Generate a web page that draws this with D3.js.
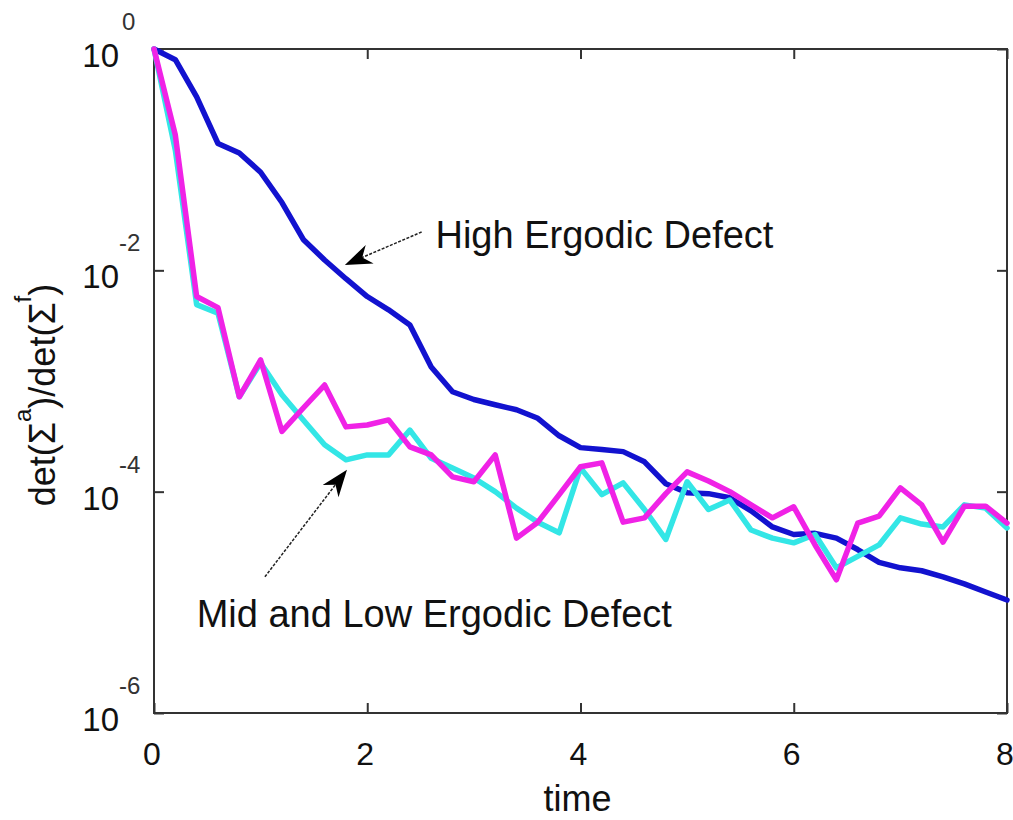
<!DOCTYPE html>
<html>
<head>
<meta charset="utf-8">
<script src="https://cdn.jsdelivr.net/npm/d3@7"></script>
<style>
  body { margin: 0; background: #fff; }
  svg { display: block; }
  text { font-family: "Liberation Sans", Arial, Helvetica, sans-serif; fill: #111; }
</style>
</head>
<body>
<svg id="chart" width="1013" height="820"></svg>
<script>
// Sample times of the assimilation experiment
const time = [0, 0.2, 0.4, 0.6, 0.8, 1.0, 1.2, 1.4, 1.6, 1.8,
              2.0, 2.2, 2.4, 2.6, 2.8, 3.0, 3.2, 3.4, 3.6, 3.8,
              4.0, 4.2, 4.4, 4.6, 4.8, 5.0, 5.2, 5.4, 5.6, 5.8,
              6.0, 6.2, 6.4, 6.6, 6.8, 7.0, 7.2, 7.4, 7.6, 7.8, 8.0];

// det(Σ^a)/det(Σ^f) for the three ergodic-defect cases
const highDefect = [1, 0.80, 0.37, 0.14, 0.115, 0.077, 0.041, 0.019, 0.0124, 0.0084,
                    0.0058, 0.0044, 0.0032, 1.34e-3, 8.0e-4, 6.8e-4, 6.1e-4, 5.5e-4, 4.6e-4, 3.2e-4,
                    2.5e-4, 2.4e-4, 2.3e-4, 1.86e-4, 1.18e-4, 9.8e-5, 9.6e-5, 8.8e-5, 6.7e-5, 4.8e-5,
                    4.1e-5, 4.2e-5, 3.8e-5, 3.0e-5, 2.3e-5, 2.05e-5, 1.93e-5, 1.70e-5, 1.47e-5, 1.24e-5, 1.05e-5];

const midDefect = [1, 0.167, 0.0058, 0.0046, 7.2e-4, 1.55e-3, 3.5e-4, 5.7e-4, 9.2e-4, 3.85e-4,
                   4.0e-4, 4.45e-4, 2.54e-4, 2.15e-4, 1.36e-4, 1.23e-4, 2.15e-4, 3.8e-5, 5.3e-5, 9.4e-5,
                   1.68e-4, 1.82e-4, 5.3e-5, 5.8e-5, 9.6e-5, 1.51e-4, 1.25e-4, 1.0e-4, 7.6e-5, 5.8e-5,
                   7.3e-5, 3.3e-5, 1.6e-5, 5.2e-5, 6.0e-5, 1.08e-4, 7.6e-5, 3.5e-5, 7.4e-5, 7.4e-5, 5.2e-5];

const lowDefect = [1, 0.122, 0.0049, 0.0041, 7.2e-4, 1.46e-3, 7.5e-4, 4.45e-4, 2.65e-4, 1.94e-4,
                   2.15e-4, 2.15e-4, 3.6e-4, 2.0e-4, 1.64e-4, 1.33e-4, 1.0e-4, 7.1e-5, 5.3e-5, 4.25e-5,
                   1.64e-4, 9.4e-5, 1.2e-4, 6.9e-5, 3.7e-5, 1.23e-4, 6.9e-5, 8.4e-5, 4.5e-5, 3.8e-5,
                   3.45e-5, 4.1e-5, 2.05e-5, 2.6e-5, 3.3e-5, 5.8e-5, 5.1e-5, 4.8e-5, 7.6e-5, 7.1e-5, 4.7e-5];

const xTickValues = [0, 2, 4, 6, 8];
const yTickExponents = [0, -2, -4, -6];

// Annotation anchors in data units: [time, ratio]
const highNote = { text: "High Ergodic Defect", tip: [1.79, 0.0112], tail: [2.51, 0.0222], label: [2.64, 0.0158] };
const lowNote  = { text: "Mid and Low Ergodic Defect", tip: [1.81, 1.58e-4], tail: [1.04, 1.7e-5], label: [0.40, 6.0e-6] };

const svg = d3.select("#chart");
const plot = { left: 154, right: 1007, top: 49, bottom: 713 };

const x = d3.scaleLinear().domain([0, 8]).range([plot.left, plot.right]);
const y = d3.scaleLog().domain([1e-6, 1]).range([plot.bottom, plot.top]);

const axisColor = "#333";

// Frame
svg.append("rect")
  .attr("x", plot.left).attr("y", plot.top)
  .attr("width", plot.right - plot.left).attr("height", plot.bottom - plot.top)
  .attr("fill", "none").attr("stroke", axisColor).attr("stroke-width", 2);

// Inward ticks on all four sides
const yTickVals = yTickExponents.map(e => Math.pow(10, e));
function styleAxis(g) {
  g.select(".domain").remove();
  g.selectAll(".tick line").attr("stroke", axisColor).attr("stroke-width", 2);
  g.selectAll(".tick text").remove();
}
svg.append("g").attr("transform", `translate(0,${plot.bottom})`)
  .call(d3.axisBottom(x).tickValues(xTickValues).tickSizeInner(-10).tickSizeOuter(0)).call(styleAxis);
svg.append("g").attr("transform", `translate(0,${plot.top})`)
  .call(d3.axisTop(x).tickValues(xTickValues).tickSizeInner(-10).tickSizeOuter(0)).call(styleAxis);
svg.append("g").attr("transform", `translate(${plot.left},0)`)
  .call(d3.axisLeft(y).tickValues(yTickVals).tickSizeInner(-10).tickSizeOuter(0)).call(styleAxis);
svg.append("g").attr("transform", `translate(${plot.right},0)`)
  .call(d3.axisRight(y).tickValues(yTickVals).tickSizeInner(-10).tickSizeOuter(0)).call(styleAxis);

// X tick labels
svg.append("g").selectAll("text").data(xTickValues).join("text")
  .attr("x", d => x(d) - 2).attr("y", plot.bottom + 52)
  .attr("text-anchor", "middle").attr("font-size", 32)
  .text(d => d);

// Y tick labels as 10 with a raised exponent
const yLab = svg.append("g").selectAll("g").data(yTickExponents).join("g")
  .attr("transform", e => `translate(0,${y(Math.pow(10, e))})`);
yLab.append("text").attr("x", plot.left - 35).attr("y", 18)
  .attr("text-anchor", "end").attr("font-size", 33).text("10");
yLab.append("text").attr("x", e => e === 0 ? plot.left - 32 : plot.left - 35).attr("y", -19)
  .attr("text-anchor", "start").attr("font-size", 24).style("fill", "#333")
  .text(e => e === 0 ? "0" : String(e));

// Axis titles
svg.append("text").attr("x", (plot.left + plot.right) / 2 - 3).attr("y", 811)
  .attr("text-anchor", "middle").attr("font-size", 36).text("time");

const yTitle = svg.append("text")
  .attr("transform", `translate(55,395) rotate(-90)`)
  .attr("text-anchor", "middle").attr("font-size", 36);
yTitle.append("tspan").text("det(Σ");
yTitle.append("tspan").attr("dy", -24).attr("font-size", 24).text("a");
yTitle.append("tspan").attr("dy", 24).text(")/det(Σ");
yTitle.append("tspan").attr("dy", -24).attr("font-size", 24).text("f");
yTitle.append("tspan").attr("dy", 24).text(")");

// Series lines
const line = d3.line().x((d, i) => x(time[i])).y(d => y(d));
const series = [
  { values: highDefect, color: "#1212cf" },
  { values: lowDefect,  color: "#33e6e6" },
  { values: midDefect,  color: "#f022e6" }
];
svg.append("g").selectAll("path").data(series).join("path")
  .attr("d", d => line(d.values))
  .attr("fill", "none")
  .attr("stroke", d => d.color)
  .attr("stroke-width", 5.5)
  .attr("stroke-linejoin", "round")
  .attr("stroke-linecap", "round");

// Annotations: dashed shaft with a notched arrowhead
function annotate(note) {
  const tx = x(note.tip[0]), ty = y(note.tip[1]);
  const sx = x(note.tail[0]), sy = y(note.tail[1]);
  const ang = Math.atan2(ty - sy, tx - sx) * 180 / Math.PI;
  const len = 27, half = 10;
  svg.append("line")
    .attr("x1", sx).attr("y1", sy)
    .attr("x2", tx - len * 0.6 * Math.cos(ang * Math.PI / 180))
    .attr("y2", ty - len * 0.6 * Math.sin(ang * Math.PI / 180))
    .attr("stroke", "#222").attr("stroke-width", 1.5).attr("stroke-dasharray", "3,1.5");
  svg.append("path")
    .attr("transform", `translate(${tx},${ty}) rotate(${ang})`)
    .attr("d", `M0,0 L${-len},${-half} L${-len * 0.7},0 L${-len},${half} Z`)
    .attr("fill", "#000");
  svg.append("text")
    .attr("x", x(note.label[0])).attr("y", y(note.label[1]))
    .attr("font-size", 38).text(note.text);
}
annotate(highNote);
annotate(lowNote);
</script>
</body>
</html>
